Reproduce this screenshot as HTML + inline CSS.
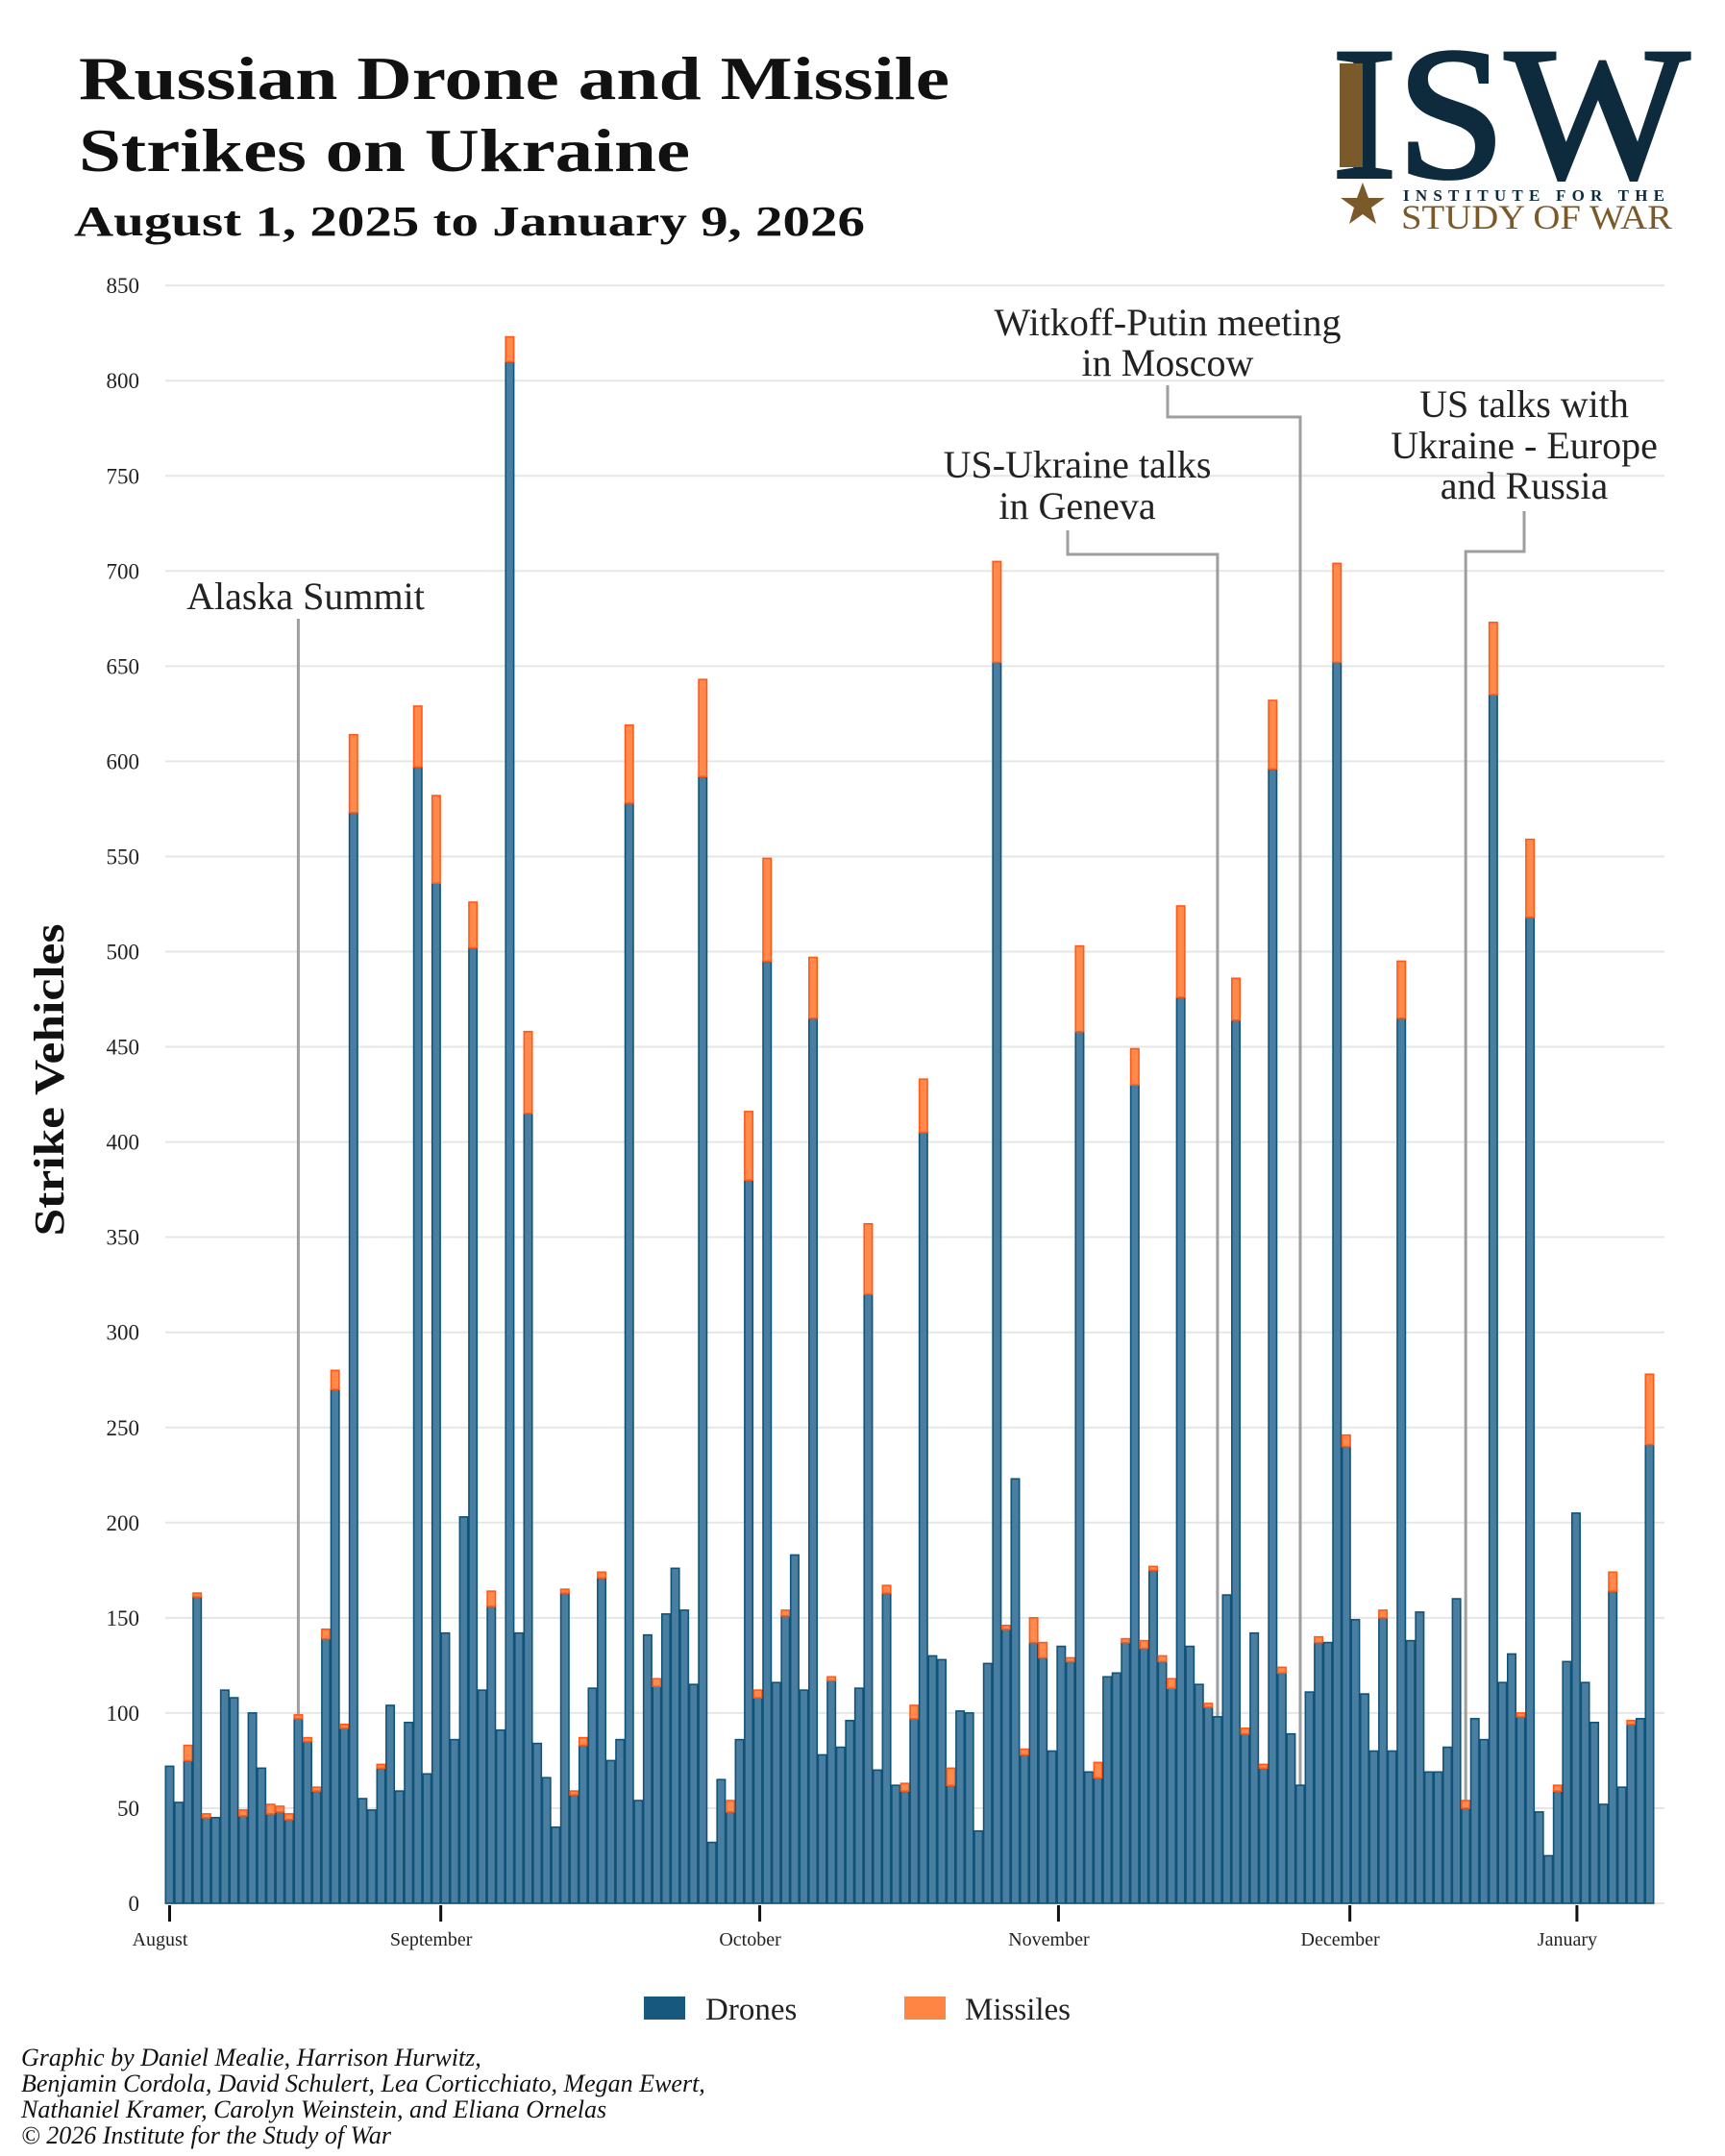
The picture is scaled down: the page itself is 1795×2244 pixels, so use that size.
<!DOCTYPE html>
<html><head><meta charset="utf-8"><title>Russian Drone and Missile Strikes on Ukraine</title>
<style>
html,body{margin:0;padding:0;background:#fff;}
svg{display:block;}
text{font-family:"Liberation Serif",serif;}
</style></head>
<body>
<svg id="chart" width="1795" height="2244" viewBox="0 0 1795 2244" xmlns="http://www.w3.org/2000/svg">
<rect width="1795" height="2244" fill="#fff"/>
<g>
<text x="82" y="103" font-size="64" font-weight="bold" fill="#111" textLength="906" lengthAdjust="spacingAndGlyphs">Russian Drone and Missile</text>
<text x="82" y="178" font-size="64" font-weight="bold" fill="#111" textLength="636" lengthAdjust="spacingAndGlyphs">Strikes on Ukraine</text>
<text x="77" y="245" font-size="44" font-weight="bold" fill="#111" textLength="823" lengthAdjust="spacingAndGlyphs">August 1, 2025 to January 9, 2026</text>
</g>
<g>
<text x="1386" y="184" font-size="196" fill="#0e2b3e" stroke="#0e2b3e" stroke-width="4" textLength="372" lengthAdjust="spacingAndGlyphs">ISW</text>
<rect x="1394" y="66" width="24" height="108" fill="#7a5a2a"/>
<polygon points="1418,190 1424,206 1441,206 1427,216 1432,233 1418,223 1404,233 1409,216 1395,206 1412,206" fill="#7a5a2a"/>
<text x="1460" y="209" font-size="17" font-weight="bold" fill="#0e2b3e" textLength="272" lengthAdjust="spacing" font-family="Liberation Sans, sans-serif">INSTITUTE FOR THE</text>
<text x="1458" y="238" font-size="36" fill="#7a5a2a" textLength="282" lengthAdjust="spacingAndGlyphs">STUDY OF WAR</text>
</g>
<g id="grid"></g>
<g id="yticks"></g>
<text transform="translate(66,1124) rotate(-90)" text-anchor="middle" font-size="44" font-weight="bold" fill="#111" textLength="325" lengthAdjust="spacingAndGlyphs">Strike Vehicles</text>
<g id="annot"></g>
<g id="bars"></g>
<g id="xticks"></g>
<g>
<g>
<rect x="670" y="2078" width="43" height="24" fill="#17587e"/>
<text x="734" y="2102" font-size="33" fill="#222">Drones</text>
</g>
<g>
<rect x="941" y="2078" width="43" height="24" fill="#ff8544"/>
<text x="1004" y="2102" font-size="33" fill="#222">Missiles</text>
</g>
</g>
<g font-style="italic" font-size="26" fill="#111">
<text x="22" y="2150">Graphic by Daniel Mealie, Harrison Hurwitz,</text>
<text x="22" y="2177">Benjamin Cordola, David Schulert, Lea Corticchiato, Megan Ewert,</text>
<text x="22" y="2204">Nathaniel Kramer, Carolyn Weinstein, and Eliana Ornelas</text>
<text x="22" y="2231">© 2026 Institute for the Study of War</text>
</g>
</svg>
<script>
const drones = [72,53,75,161,45,45,112,108,46,100,71,47,48,44,97,85,59,139,270,92,573,55,49,71,104,59,95,597,68,536,142,86,203,502,112,156,91,810,142,415,84,66,40,163,57,83,113,171,75,86,578,54,141,114,152,176,154,115,592,32,65,48,86,380,108,495,116,151,183,112,465,78,117,82,96,113,320,70,163,62,59,97,405,130,128,62,101,100,38,126,652,144,223,78,137,129,80,135,127,458,69,66,119,121,137,430,134,175,127,113,476,135,115,103,98,162,464,89,142,71,596,121,89,62,111,137,137,652,240,149,110,80,150,80,465,138,153,69,69,82,160,50,97,86,635,116,131,98,518,48,25,59,127,205,116,95,52,164,61,94,97,241];
const missiles = [0,0,8,2,2,0,0,0,3,0,0,5,3,3,2,2,2,5,10,2,41,0,0,2,0,0,0,32,0,46,0,0,0,24,0,8,0,13,0,43,0,0,0,2,2,4,0,3,0,0,41,0,0,4,0,0,0,0,51,0,0,6,0,36,4,54,0,3,0,0,32,0,2,0,0,0,37,0,4,0,4,7,28,0,0,9,0,0,0,0,53,2,0,3,13,8,0,0,2,45,0,8,0,0,2,19,4,2,3,5,48,0,0,2,0,0,22,3,0,2,36,3,0,0,0,3,0,52,6,0,0,0,4,0,30,0,0,0,0,0,0,4,0,0,38,0,0,2,41,0,0,3,0,0,0,0,0,10,0,2,0,37];
const yTicks = [0,50,100,150,200,250,300,350,400,450,500,550,600,650,700,750,800,850];
const monthLabels = ["August","September","October","November","December","January"];
const monthTickIndex = [0,29.5,64.2,96.7,128.4,153.1];
const annotLabels = [["Alaska Summit"],["US-Ukraine talks","in Geneva"],["Witkoff-Putin meeting","in Moscow"],["US talks with","Ukraine - Europe","and Russia"]];
const annotBarIndex = [14,114,123,141];

const NS="http://www.w3.org/2000/svg";
const X0=176.5, STEP=9.565, Y0=1981, YS=1.981;
function xs(i){return X0+i*STEP;}
function ys(v){return Y0-v*YS;}
function mk(tag,attrs,parent){const e=document.createElementNS(NS,tag);for(const k in attrs)e.setAttribute(k,attrs[k]);parent.appendChild(e);return e;}

const grid=document.getElementById('grid'), yt=document.getElementById('yticks');
yTicks.forEach(v=>{
  const l=mk('line',{x1:172,x2:1732,y1:ys(v),y2:ys(v),stroke:'#e6e6e6','stroke-width':2},grid);
  
  
  const t=mk('text',{x:145,y:ys(v)+8,'text-anchor':'end','font-size':23,fill:'#222'},yt);
  t.textContent=v;
  
  
});

const an=document.getElementById('annot');
const annotLayout=[
  {cx:318,ys:[634],ly1:644,hy:null,lx:null},
  {cx:1121,ys:[497,540],ly1:552,hy:577,lx:1111},
  {cx:1215,ys:[349,391],ly1:401,hy:434,lx:1215},
  {cx:1586,ys:[434,477,519],ly1:532,hy:574,lx:1586}
];
annotLabels.forEach((lines,k)=>{
  const L=annotLayout[k], bi=annotBarIndex[k], bx=xs(bi);
  const g=mk('g',{},an);
  
  
  lines.forEach((s,j)=>{const t=mk('text',{x:L.cx,y:L.ys[j],'text-anchor':'middle','font-size':40,fill:'#222'},g);t.textContent=s;});
  const top=ys(drones[bi]+missiles[bi]);
  let d;
  if(L.hy===null) d=`M${bx},${L.ly1} V${top}`;
  else d=`M${L.lx},${L.ly1} V${L.hy} H${bx} V${top}`;
  mk('path',{d:d,fill:'none',stroke:'#9e9e9e','stroke-width':3},g);
});

const bars=document.getElementById('bars');
drones.forEach((dv,i)=>{
  const x=xs(i)-4.2, w=8.4;
  const r=mk('rect',{x:x,y:ys(dv),width:w,height:dv*YS,fill:'#4a7ea0',stroke:'#0f5378','stroke-width':1.6},bars);
  
  
  const mv=missiles[i];
  if(mv>0){
    const m=mk('rect',{x:x,y:ys(dv+mv),width:w,height:mv*YS,fill:'#ff8a4c',stroke:'#ff5a1a','stroke-width':1.6},bars);
    
    
  }
});

const xt=document.getElementById('xticks');
monthLabels.forEach((s,k)=>{
  const x=xs(monthTickIndex[k]);
  const l=mk('line',{x1:x,x2:x,y1:1983,y2:2000,stroke:'#111','stroke-width':3},xt);
  
  
  const t=mk('text',{x:x-10,y:2025,'text-anchor':'middle','font-size':20,fill:'#222'},xt);
  t.textContent=s;
  
  
});
</script>
</body></html>
